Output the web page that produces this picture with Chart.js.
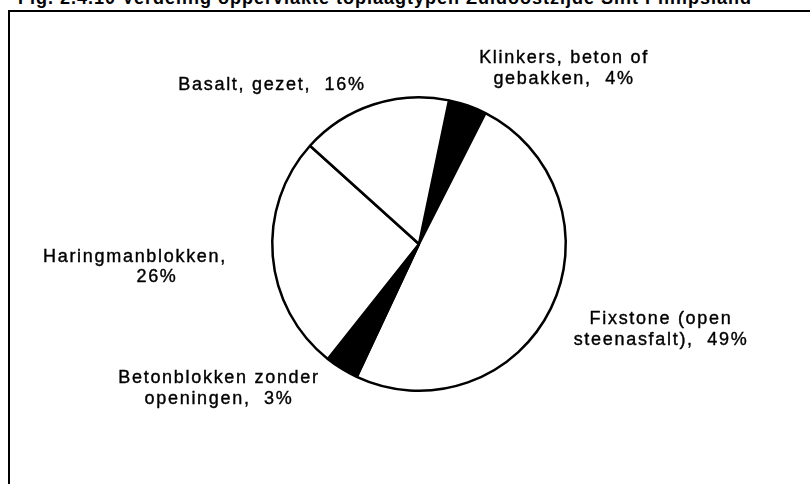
<!DOCTYPE html>
<html>
<head>
<meta charset="utf-8">
<script src="https://cdn.jsdelivr.net/npm/chart.js@4.4.1/dist/chart.umd.min.js"></script>
<style>
  body { margin: 0; background: #fff; overflow: hidden; }
  #title {
    position: absolute; left: 18px; top: -12px; white-space: nowrap;
    font: bold 18px "Liberation Sans", Arial, sans-serif; letter-spacing: 1px; color: #000;
  }
  #frame {
    position: absolute; left: 8px; top: 10px; width: 830px; height: 500px;
    border: 2px solid #000;
  }
  #wrap { position: absolute; left: 0; top: 0; width: 810px; height: 484px; }
</style>
</head>
<body>
<div id="title">Fig. 2.4.10 Verdeling oppervlakte toplaagtypen Zuidoostzijde Sint Philipsland</div>
<div id="frame"></div>
<div id="wrap"><canvas id="myChart"></canvas></div>
<script>
// toplaagtypen, in drawing order (clockwise from the top)
const categories = ['Klinkers, beton of gebakken', 'Fixstone (open steenasfalt)', 'Betonblokken zonder openingen', 'Haringmanblokken', 'Basalt, gezet'];
const shares = [4.2, 49.5, 3.7, 26, 16.6];
const shownPct = [4, 49, 3, 26, 16];
const sliceColors = ['#000', '#fff', '#000', '#fff', '#fff'];

// label lines, as they are wrapped in the figure
const labelLines = [
  ['Klinkers, beton of', 'gebakken,  ' + shownPct[0] + '%'],
  ['Fixstone (open', 'steenasfalt),  ' + shownPct[1] + '%'],
  ['Betonblokken zonder', 'openingen,  ' + shownPct[2] + '%'],
  ['Haringmanblokken,', shownPct[3] + '%'],
  ['Basalt, gezet,  ' + shownPct[4] + '%'],
];
// label anchors relative to pie centre (px), per line
const labelOffsets = [
  [[145, -186], [145, -165]],
  [[242, 75], [242, 96]],
  [[-200, 134], [-200, 155]],
  [[-284, 13], [-262, 33]],
  [[-147, -159]],
];

const pieLabels = {
  id: 'pieLabels',
  afterDraw(chart) {
    const arc = chart.getDatasetMeta(0).data[0];
    const { ctx } = chart;
    ctx.save();
    ctx.font = '18px "Liberation Sans", Arial, sans-serif';
    ctx.letterSpacing = '1.7px';
    ctx.fillStyle = '#000';
    ctx.strokeStyle = '#000';
    ctx.lineWidth = 0.4;
    ctx.textAlign = 'center';
    ctx.textBaseline = 'middle';
    labelLines.forEach((lines, i) => {
      lines.forEach((txt, j) => {
        const [dx, dy] = labelOffsets[i][j];
        ctx.fillText(txt, arc.x + dx, arc.y + dy);
        ctx.strokeText(txt, arc.x + dx, arc.y + dy);
      });
    });
    ctx.restore();
  }
};

const ctx = document.getElementById('myChart');
// eslint-disable-next-line no-new
new Chart(ctx, {
  type: 'pie',
  data: {
    labels: categories,
    datasets: [{
      data: shares,
      backgroundColor: sliceColors,
      borderColor: '#000',
      borderWidth: 2.5,
    }]
  },
  options: {
    responsive: true,
    maintainAspectRatio: false,
    animation: false,
    rotation: 11.8,
    layout: { padding: { top: 96, bottom: 92, left: 271, right: 243 } },
    plugins: {
      legend: { display: false },
      tooltip: { enabled: false },
    }
  },
  plugins: [pieLabels]
});
</script>
</body>
</html>
